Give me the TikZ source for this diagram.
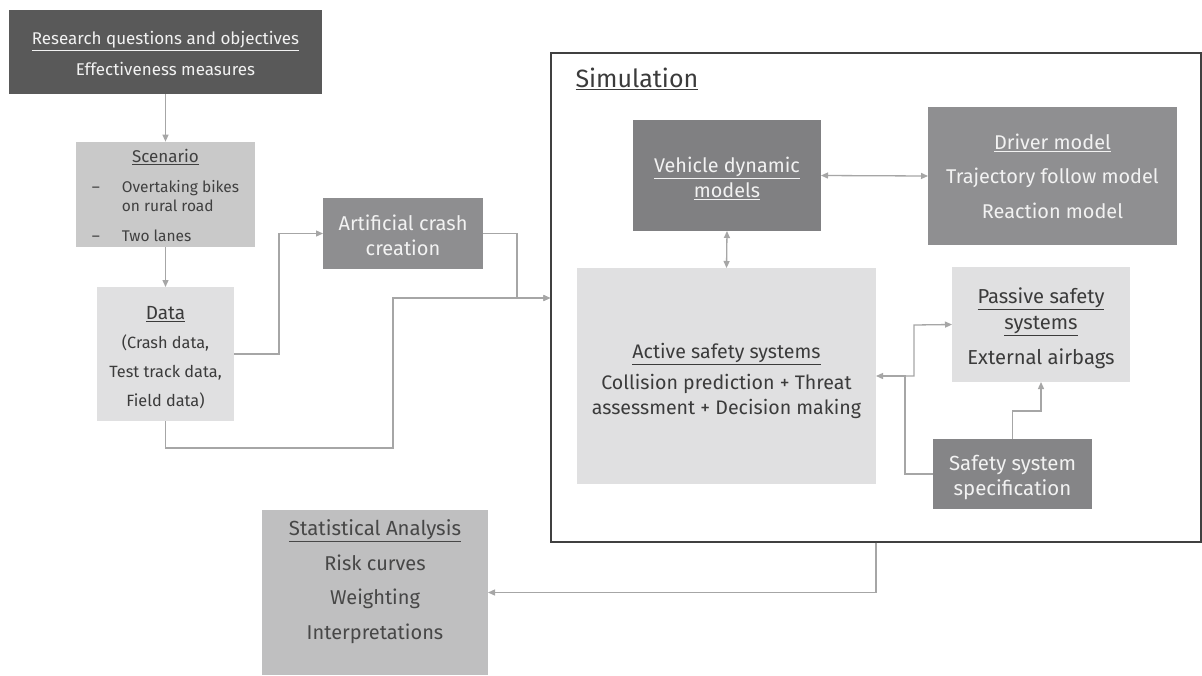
\documentclass[tikz,border=0pt]{standalone}
\usepackage{fontspec}
\setmainfont{Fira Sans}
\usetikzlibrary{arrows.meta}
\definecolor{cRQ}{HTML}{595959}
\definecolor{cScen}{HTML}{C9C9C9}
\definecolor{cLight}{HTML}{E0E0E1}
\definecolor{cArt}{HTML}{8E8E90}
\definecolor{cVeh}{HTML}{808082}
\definecolor{cDrv}{HTML}{8F8F91}
\definecolor{cSpec}{HTML}{858587}
\definecolor{cStat}{HTML}{BFBFC0}
\definecolor{cLine}{HTML}{A6A6A6}
\definecolor{cDarkTxt}{HTML}{3B3B3B}
\definecolor{cLightTxt}{HTML}{F2F2F2}
\tikzset{
  blk/.style={inner sep=0pt, outer sep=0pt, align=center, draw=none},
  darkblk/.style={blk, text=cLightTxt},
  lightblk/.style={blk, text=cDarkTxt},
  conn/.style={draw=cLine, line width=1.3pt, -{Triangle[length=7pt,width=6pt]}},
  dconn/.style={draw=cLine, line width=1.3pt, {Triangle[length=7pt,width=6pt]}-{Triangle[length=7pt,width=6pt]}}
}
\newcommand{\fs}[2]{\fontsize{#1}{#2}\selectfont}
\newcommand{\pushdn}[1]{\rule{0pt}{#1}}
\begin{document}
\begin{tikzpicture}[x=1pt,y=-1pt]
\useasboundingbox (0,0) rectangle (1202,675);
% simulation frame
\node[draw=black!75, line width=1.4pt, fill=white, minimum width=650pt, minimum height=489pt, inner sep=0pt,
  label={[anchor=base west, inner sep=0pt, text=cDarkTxt, font=\fs{25}{29}]north west:{\hspace*{25pt}\raisebox{-35pt}{\underline{Simulation}}}}]
  (sim) at (876,297.5) {};
% boxes
\node[darkblk, fill=cRQ, minimum width=313pt, minimum height=84pt, font=\fs{17}{31}]
  (rq) at (165.5,52) {\pushdn{16.6pt}\underline{Research questions and objectives}\\Effectiveness measures};
\node[lightblk, fill=cScen, minimum width=179pt, minimum height=105pt, font=\fs{15.5}{19}, text=black!75]
  (scen) at (165.5,194.5) {\begin{tabular}{@{}l@{\hspace{22pt}}l@{}}\multicolumn{2}{c}{\pushdn{21pt}\fs{17}{19}\underline{Scenario}}\\[11pt]
  -- & Overtaking bikes\\ & on rural road\\[11pt] -- & Two lanes\end{tabular}};
\node[lightblk, fill=cLight, minimum width=137pt, minimum height=134pt, font=\fs{16.3}{29}]
  (data) at (165.5,354) {{\fs{19}{29}\pushdn{21pt}\underline{Data}}\\(Crash data,\\Test track data,\\Field data)};
\node[darkblk, fill=cArt, minimum width=160pt, minimum height=71pt, font=\fs{20}{24.5}]
  (art) at (403,233.5) {\pushdn{19pt}Artificial crash\\creation};
\node[darkblk, fill=cVeh, minimum width=188pt, minimum height=111pt, font=\fs{19.8}{25}]
  (veh) at (727,175.5) {\pushdn{20.7pt}\underline{Vehicle dynamic}\\\underline{models}};
\node[darkblk, fill=cDrv, minimum width=249pt, minimum height=138pt, font=\fs{19.9}{34.5}]
  (drv) at (1052.5,176) {\underline{Driver model}\\Trajectory follow model\\Reaction model};
\node[lightblk, fill=cLight, minimum width=299pt, minimum height=216pt, font=\fs{19.6}{25}]
  (act) at (726.5,376) {\pushdn{24.5pt}\underline{Active safety systems}\\[6pt]Collision prediction + Threat\\assessment + Decision making};
\node[lightblk, fill=cLight, minimum width=178pt, minimum height=115pt, font=\fs{20.2}{26.5}]
  (pas) at (1041,324.5) {\pushdn{23pt}\underline{Passive safety}\\\underline{systems}\\[8pt]External airbags};
\node[darkblk, fill=cSpec, minimum width=159pt, minimum height=70pt, font=\fs{20.4}{25}]
  (spec) at (1012.5,474) {\pushdn{23pt}Safety system\\specification};
\node[lightblk, fill=cStat, minimum width=226pt, minimum height=165pt, font=\fs{20}{34.7}, text=black!72]
  (stat) at (375,592.5) {{\fs{20.4}{34.7}\underline{Statistical Analysis}}\\Risk curves\\Weighting\\Interpretations\\[-9pt]\mbox{}};
% helper coordinates
\coordinate (simin) at (sim.west |- 0,298);
\coordinate (jn) at (905,376);
% connectors
\draw[conn] (rq.south) -- (scen.north);
\draw[conn] (scen.south) -- (data.north);
\draw[conn] (data.east) -- (279,354) |- (art.west);
\draw[conn] (art.east) -- (517,233.5) |- (simin);
\draw[conn] (data.south) -- (165.5,448) -| (393,298) -- (simin);
\draw[dconn] (veh.east) -- (drv.west);
\draw[dconn] (veh.south) -- (act.north);
\draw[conn] (spec.west) -| (jn) -- (act.east);
\draw[conn] (jn) -| (914,325) -- (pas.west);
\draw[conn] (spec.north) -- (1012.5,411) -| (pas.south);
\draw[conn] (sim.south) |- (stat.east);
\end{tikzpicture}
\end{document}
